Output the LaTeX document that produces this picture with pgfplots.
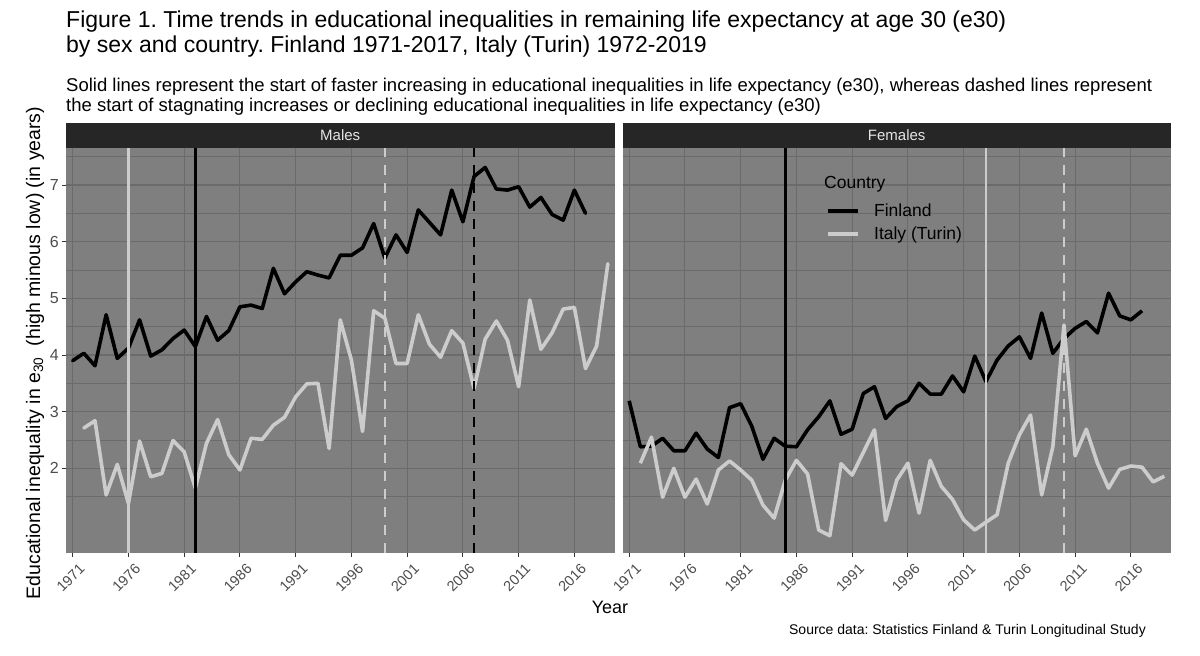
\documentclass[border=0pt]{standalone}
\usepackage{fontspec}
\setmainfont{Liberation Sans}
\usepackage{pgfplots}
\pgfplotsset{compat=1.18}
\usepackage{pgfplotstable}
\frenchspacing

\definecolor{panelbg}{HTML}{7F7F7F}
\definecolor{gridc}{HTML}{6B6B6B}
\definecolor{stripc}{HTML}{262626}
\definecolor{striptext}{HTML}{E5E5E5}
\definecolor{ticktext}{HTML}{4D4D4D}
\definecolor{tickc}{HTML}{333333}
\definecolor{italyc}{HTML}{CCCCCC}

\pgfplotstableread{
year val
1971 3.90
1972 4.03
1973 3.81
1974 4.71
1975 3.94
1976 4.12
1977 4.62
1978 3.98
1979 4.09
1980 4.29
1981 4.44
1982 4.15
1983 4.68
1984 4.26
1985 4.43
1986 4.85
1987 4.88
1988 4.82
1989 5.53
1990 5.08
1991 5.29
1992 5.47
1993 5.41
1994 5.36
1995 5.76
1996 5.76
1997 5.89
1998 6.32
1999 5.71
2000 6.12
2001 5.81
2002 6.56
2003 6.34
2004 6.12
2005 6.91
2006 6.35
2007 7.15
2008 7.31
2009 6.93
2010 6.91
2011 6.97
2012 6.61
2013 6.78
2014 6.48
2015 6.38
2016 6.91
2017 6.50
}\maleFin

\pgfplotstableread{
year val
1972 2.71
1973 2.84
1974 1.53
1975 2.07
1976 1.38
1977 2.48
1978 1.85
1979 1.91
1980 2.49
1981 2.29
1982 1.65
1983 2.44
1984 2.86
1985 2.24
1986 1.97
1987 2.53
1988 2.51
1989 2.76
1990 2.90
1991 3.26
1992 3.49
1993 3.50
1994 2.35
1995 4.62
1996 3.91
1997 2.65
1998 4.78
1999 4.65
2000 3.85
2001 3.85
2002 4.71
2003 4.19
2004 3.96
2005 4.43
2006 4.21
2007 3.41
2008 4.28
2009 4.60
2010 4.26
2011 3.44
2012 4.97
2013 4.10
2014 4.39
2015 4.81
2016 4.84
2017 3.76
2018 4.16
2019 5.61
}\maleIta

\pgfplotstableread{
year val
1971 3.19
1972 2.38
1973 2.39
1974 2.53
1975 2.31
1976 2.31
1977 2.62
1978 2.34
1979 2.19
1980 3.07
1981 3.14
1982 2.74
1983 2.16
1984 2.53
1985 2.39
1986 2.38
1987 2.68
1988 2.91
1989 3.19
1990 2.60
1991 2.69
1992 3.32
1993 3.44
1994 2.88
1995 3.09
1996 3.19
1997 3.50
1998 3.31
1999 3.31
2000 3.63
2001 3.35
2002 3.98
2003 3.53
2004 3.91
2005 4.16
2006 4.32
2007 3.94
2008 4.74
2009 4.03
2010 4.29
2011 4.47
2012 4.59
2013 4.39
2014 5.09
2015 4.69
2016 4.62
2017 4.78
}\femFin

\pgfplotstableread{
year val
1972 2.09
1973 2.55
1974 1.49
1975 2.00
1976 1.49
1977 1.81
1978 1.37
1979 1.97
1980 2.13
1981 1.97
1982 1.79
1983 1.35
1984 1.12
1985 1.79
1986 2.14
1987 1.90
1988 0.91
1989 0.81
1990 2.08
1991 1.88
1992 2.28
1993 2.68
1994 1.08
1995 1.79
1996 2.09
1997 1.21
1998 2.14
1999 1.68
2000 1.45
2001 1.09
2002 0.91
2003 1.05
2004 1.18
2005 2.09
2006 2.59
2007 2.94
2008 1.53
2009 2.38
2010 4.53
2011 2.22
2012 2.69
2013 2.09
2014 1.65
2015 1.98
2016 2.04
2017 2.02
2018 1.76
2019 1.86
}\femIta

\pgfplotsset{
  panel/.style={
    anchor=south west,
    scale only axis,
    width=548.5pt, height=404.7pt,
    xmin=1970.4, xmax=2019.6,
    ymin=0.505, ymax=7.648,
    axis background/.style={fill=panelbg},
    axis line style={draw=none},
    clip=true,
    xtick={1971,1976,...,2016},
    ytick={2,3,4,5,6,7},
    minor ytick={1.5,2.5,3.5,4.5,5.5,6.5,7.5},
    grid=both,
    major grid style={gridc, line width=1.1pt},
    minor grid style={gridc, line width=0.55pt},
    tick pos=left,
    tick align=outside,
    major tick length=4pt,
    minor tick length=0pt,
    tick style={tickc, line width=0.9pt},
    /pgf/number format/assume math mode=true,
    /pgf/number format/1000 sep={},
    xticklabel style={rotate=45, anchor=north east, inner sep=0pt,
      font=\fontsize{14.5}{15}\selectfont, text=ticktext, yshift=-8pt},
    yticklabel style={font=\fontsize{16}{17}\selectfont, text=ticktext, inner sep=0pt, xshift=-3pt},
  },
  finline/.style={black, line width=3.6pt, line join=round, line cap=round},
  itaine/.style={italyc, line width=3.6pt, line join=round, line cap=round},
}

\begin{document}
\begin{tikzpicture}[x=1pt,y=1pt]
\path[use as bounding box, fill=white] (0,0) rectangle (1200,656);

% Left panel (Males)
\begin{axis}[panel, at={(66pt,103pt)}]
\addplot[finline] table[x=year,y=val] {\maleFin};
\addplot[itaine] table[x=year,y=val] {\maleIta};
\addplot[italyc, line width=2.4pt] coordinates {(1976,0.505) (1976,7.648)};
\addplot[black, line width=2.8pt] coordinates {(1982,0.505) (1982,7.648)};
\addplot[italyc, line width=2.4pt, dash pattern=on 10pt off 8pt] coordinates {(1999,0.505) (1999,7.648)};
\addplot[black, line width=2.8pt, dash pattern=on 10pt off 8pt] coordinates {(2007,0.505) (2007,7.648)};
\end{axis}

% Right panel (Females)
\begin{axis}[panel, at={(622.5pt,103pt)}, yticklabels={}, ytick style={draw=none},
  legend style={at={(0.372,0.862)}, anchor=north west, draw=none, fill=none,
    inner sep=0pt, outer sep=0pt, row sep=8.5pt,
    font=\fontsize{17.5}{19}\selectfont, cells={anchor=west},
    nodes={inner sep=0pt}},
  legend image code/.code={\draw[#1, line width=3.6pt] (0pt,0pt) -- (30pt,0pt);},
  legend cell align=left,
  ]
\addplot[finline, line cap=butt] table[x=year,y=val] {\femFin};
\addlegendentry{\hspace{14pt}Finland}
\addplot[itaine, line cap=butt] table[x=year,y=val] {\femIta};
\addlegendentry{\hspace{14pt}Italy (Turin)}
\addplot[black, line width=2.8pt, forget plot] coordinates {(1985,0.505) (1985,7.648)};
\addplot[italyc, line width=2.4pt, forget plot] coordinates {(2003,0.505) (2003,7.648)};
\addplot[italyc, line width=2.4pt, dash pattern=on 10pt off 8pt, forget plot] coordinates {(2010,0.505) (2010,7.648)};
\end{axis}

% Strips
\fill[stripc] (66,507.7) rectangle (614.5,533.3);
\fill[stripc] (622.5,507.7) rectangle (1171,533.3);
\node[text=striptext, font=\fontsize{15}{16}\selectfont] at (340.2,520.5) {Males};
\node[text=striptext, font=\fontsize{15}{16}\selectfont] at (896.7,520.5) {Females};

% Legend title
\node[anchor=base west, inner sep=0pt, font=\fontsize{17.5}{19}\selectfont] at (824,467) {Country};

% Titles
\node[anchor=base west, inner sep=0pt, font=\fontsize{23}{26}\selectfont] at (66,628) {Figure 1. Time trends in educational inequalities in remaining life expectancy at age 30 (e30)};
\node[anchor=base west, inner sep=0pt, font=\fontsize{23}{26}\selectfont] at (66,603) {by sex and country. Finland 1971-2017, Italy (Turin) 1972-2019};
\node[anchor=base west, inner sep=0pt, font=\fontsize{18.5}{21}\selectfont] at (66,564) {Solid lines represent the start of faster increasing in educational inequalities in life expectancy (e30), whereas dashed lines represent};
\node[anchor=base west, inner sep=0pt, font=\fontsize{18.5}{21}\selectfont] at (66,544) {the start of stagnating increases or declining educational inequalities in life expectancy (e30)};

% Axis labels
\node[rotate=90, font=\fontsize{19.5}{21}\selectfont] at (35,303) {Educational inequality in e\textsubscript{30}\ \ (high minous low) (in years)};
\node[anchor=base, inner sep=0pt, font=\fontsize{18}{20}\selectfont] at (610,42) {Year};

% Caption
\node[anchor=base east, inner sep=0pt, font=\fontsize{14}{16}\selectfont] at (1146,21) {Source data: Statistics Finland \& Turin Longitudinal Study};
\end{tikzpicture}
\end{document}
